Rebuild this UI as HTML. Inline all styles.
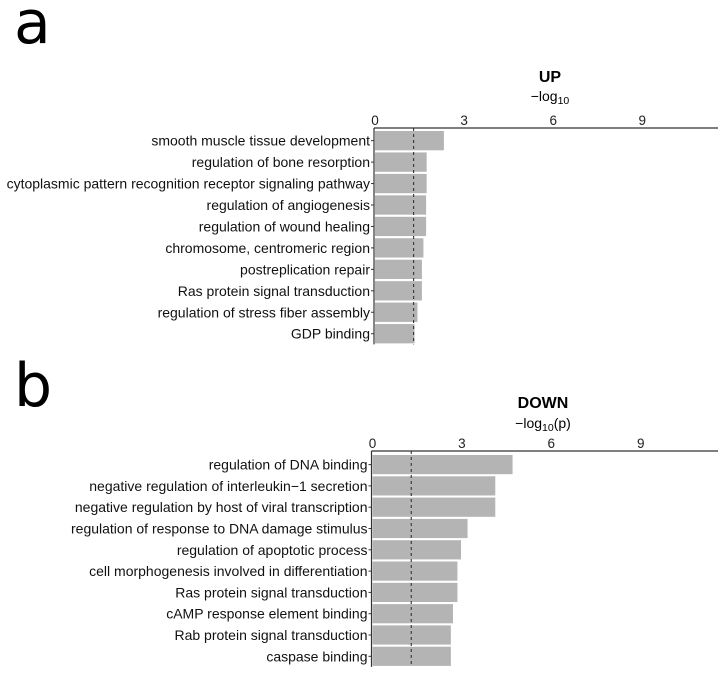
<!DOCTYPE html>
<html><head><meta charset="utf-8"><style>
body{margin:0;background:#fff;}
svg{display:block;font-family:"Liberation Sans",sans-serif;}
</style></head><body>
<svg id="chart" width="724" height="676" viewBox="0 0 724 676" xmlns="http://www.w3.org/2000/svg">
<text x="14" y="43" font-family="DejaVu Sans, sans-serif" font-size="60">a</text>
<text x="14" y="406" font-family="DejaVu Sans, sans-serif" font-size="60">b</text>
<g id="up"></g>
<g id="down"></g>
</svg>
<script>
const upTerms = ["smooth muscle tissue development","regulation of bone resorption","cytoplasmic pattern recognition receptor signaling pathway","regulation of angiogenesis","regulation of wound healing","chromosome, centromeric region","postreplication repair","Ras protein signal transduction","regulation of stress fiber assembly","GDP binding"];
const upValues = [2.32,1.74,1.74,1.72,1.72,1.63,1.58,1.58,1.43,1.33];
const downTerms = ["regulation of DNA binding","negative regulation of interleukin\u22121 secretion","negative regulation by host of viral transcription","regulation of response to DNA damage stimulus","regulation of apoptotic process","cell morphogenesis involved in differentiation","Ras protein signal transduction","cAMP response element binding","Rab protein signal transduction","caspase binding"];
const downValues = [4.7,4.12,4.12,3.19,2.97,2.85,2.85,2.70,2.63,2.63];
const tickValues = [0,3,6,9];
const threshold = 1.3;
const NS = "http://www.w3.org/2000/svg";
function mk(tag, attrs, parent){const e=document.createElementNS(NS,tag);for(const k in attrs)e.setAttribute(k,attrs[k]);parent.appendChild(e);return e;}
function panel(g, terms, values, cfg){
  const xs = v => cfg.x0 + v*cfg.unit;
  const ys = i => cfg.top + i*cfg.pitch;
  const t = mk('text',{x:cfg.titleX,y:cfg.axisY-cfg.titleOff,'font-size':16,'font-weight':'bold','text-anchor':'middle'},g);
  
  
  t.textContent = cfg.title;
  const at = mk('text',{x:cfg.titleX,y:cfg.axisY-cfg.axOff,'font-size':14,'text-anchor':'middle'},g);
  
  
  at.innerHTML = cfg.axisTitle;
  const ax = mk('line',{x1:cfg.x0-1,x2:718,y1:cfg.axisY,y2:cfg.axisY,stroke:'#333','stroke-width':1.2},g);
  
  
  tickValues.forEach(v=>{
    const tl = mk('text',{x:xs(v),y:cfg.axisY-3,'font-size':13.5,'text-anchor':'middle',fill:'#222'},g);
    
    
    tl.textContent = v;
  });
  const yl = mk('line',{x1:cfg.x0-1,x2:cfg.x0-1,y1:cfg.axisY,y2:ys(terms.length-1)+cfg.barH+1,stroke:'#333','stroke-width':1.2},g);
  
  
  terms.forEach((term,i)=>{
    const b = mk('rect',{x:cfg.x0,y:ys(i),width:xs(values[i])-cfg.x0,height:cfg.barH,fill:'#b4b4b4'},g);
    
    
    const tk = mk('line',{x1:cfg.x0-4,x2:cfg.x0-1,y1:ys(i)+cfg.barH/2,y2:ys(i)+cfg.barH/2,stroke:'#333'},g);
    
    
    const l = mk('text',{x:cfg.x0-5,y:ys(i)+cfg.barH/2+5,'font-size':14,'text-anchor':'end',fill:'#111'},g);
    
    
    l.textContent = term;
  });
  const d = mk('line',{x1:xs(threshold),x2:xs(threshold),y1:cfg.axisY,y2:ys(terms.length-1)+cfg.barH+1,stroke:'#333','stroke-width':1.1,'stroke-dasharray':'3,3'},g);
  
  
}
panel(document.getElementById('up'), upTerms, upValues, {x0:375,unit:29.7,axisY:128,top:131,pitch:21.45,barH:19.3,titleX:550,titleOff:46,axOff:27,title:'UP',axisTitle:'\u2212log<tspan font-size="10.5" dy="3">10</tspan>'});
panel(document.getElementById('down'), downTerms, downValues, {x0:372.5,unit:29.8,axisY:451,top:455,pitch:21.3,barH:19.2,titleX:543,titleOff:43,axOff:23,title:'DOWN',axisTitle:'\u2212log<tspan font-size="10.5" dy="3">10</tspan><tspan dy="-3">(p)</tspan>'});
</script>
</body></html>
